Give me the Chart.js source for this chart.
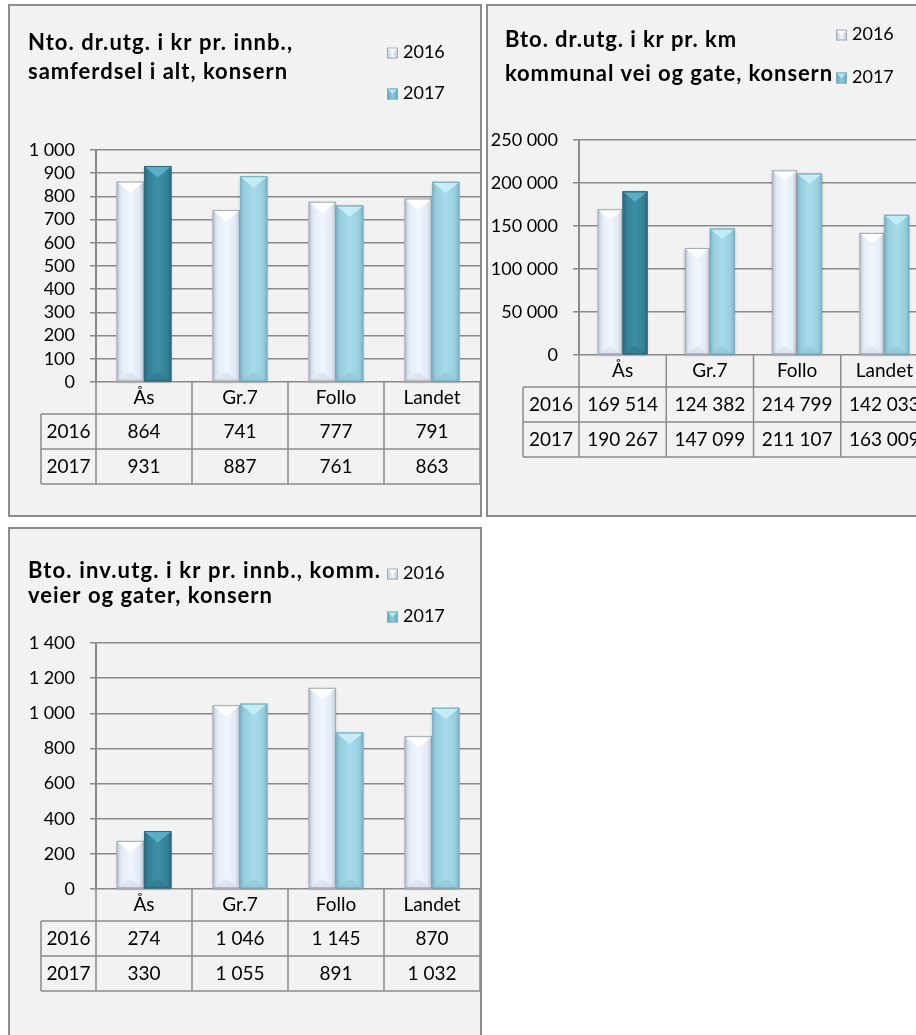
<!DOCTYPE html>
<html>
<head>
<meta charset="utf-8">
<script src="https://cdn.jsdelivr.net/npm/chart.js@4.4.1/dist/chart.umd.min.js"></script>
<style>
  html, body { margin: 0; padding: 0; background: #fff; overflow: hidden; width: 916px; height: 1035px; }
  canvas { position: absolute; }
  #c1 { left: 8px; top: 4px; }
  #c2 { left: 486px; top: 4px; }
  #c3 { left: 8px; top: 527px; }
</style>
</head>
<body>
<canvas id="c1" width="474" height="513"></canvas>
<canvas id="c2" width="470" height="513"></canvas>
<canvas id="c3" width="474" height="520"></canvas>
<script>
// data
const categories = ['Ås', 'Gr.7', 'Follo', 'Landet'];
const years = ['2016', '2017'];

const netto2016 = [864, 741, 777, 791];
const netto2017 = [931, 887, 761, 863];

const brutto2016 = [169514, 124382, 214799, 142033];
const brutto2017 = [190267, 147099, 211107, 163009];

const inv2016 = [274, 1046, 1145, 870];
const inv2017 = [330, 1055, 891, 1032];

const FONT = 'Lato, "Open Sans", sans-serif';
const GRID = '#8a8a8a';

// bar looks (3d bevel)
const light16 = { main: '#e3ebf6', light: '#f1f6fc', edge: '#bcc5d0', top: '#ffffff', bottom: '#d3dbe6', border: '#a3abb5' };
const dark17 = { main: '#358399', light: '#3d8fa6', edge: '#2a6a7c', top: '#5aaec5', bottom: '#2e7589', border: '#2b6b7d' };
const cyan17 = { main: '#98d0e0', light: '#a6dbea', edge: '#7db6c7', top: '#c3ecf7', bottom: '#8bc3d3', border: '#7aafbf' };

function fmt(v) {
  return String(v).replace(/\B(?=(\d{3})+(?!\d))/g, ' ');
}

function paintBar(ctx, bar, c) {
  const p = bar.getProps(['x', 'y', 'base', 'width'], true);
  const x0 = p.x - p.width / 2, x1 = p.x + p.width / 2;
  const top = Math.min(p.y, p.base), bot = Math.max(p.y, p.base);
  const h = bot - top;
  ctx.save();
  ctx.shadowColor = 'rgba(0,0,0,0.35)';
  ctx.shadowBlur = 3;
  ctx.shadowOffsetX = 0;
  ctx.shadowOffsetY = 1;
  const g = ctx.createLinearGradient(x0, 0, x1, 0);
  g.addColorStop(0, c.edge);
  g.addColorStop(0.18, c.main);
  g.addColorStop(0.5, c.light);
  g.addColorStop(0.82, c.main);
  g.addColorStop(1, c.edge);
  ctx.fillStyle = g;
  ctx.fillRect(x0, top, p.width, h);
  ctx.restore();

  const d = Math.min(p.width * 0.42, h / 2);
  ctx.save();
  ctx.beginPath();
  ctx.moveTo(x0 + 1, top + 1);
  ctx.lineTo(x1 - 1, top + 1);
  ctx.lineTo(p.x, top + d);
  ctx.closePath();
  ctx.fillStyle = c.top;
  ctx.fill();
  ctx.beginPath();
  ctx.moveTo(x0 + 1, bot);
  ctx.lineTo(x1 - 1, bot);
  ctx.lineTo(p.x, bot - d * 0.8);
  ctx.closePath();
  ctx.fillStyle = c.bottom;
  ctx.globalAlpha = 0.6;
  ctx.fill();
  ctx.restore();

  ctx.strokeStyle = c.border;
  ctx.lineWidth = 1;
  ctx.strokeRect(x0 + 0.5, top + 0.5, p.width - 1, h - 1);
}

function legendBox(ctx, x, y, c) {
  const s = 11;
  const g = ctx.createLinearGradient(x, 0, x + s, 0);
  g.addColorStop(0, c.edge);
  g.addColorStop(0.5, c.light);
  g.addColorStop(1, c.edge);
  ctx.fillStyle = g;
  ctx.fillRect(x, y - s / 2, s, s);
  ctx.beginPath();
  ctx.moveTo(x, y - s / 2);
  ctx.lineTo(x + s, y - s / 2);
  ctx.lineTo(x + s / 2, y);
  ctx.closePath();
  ctx.fillStyle = c.top;
  ctx.fill();
  ctx.strokeStyle = c.border;
  ctx.lineWidth = 1;
  ctx.strokeRect(x + 0.5, y - s / 2 + 0.5, s - 1, s - 1);
}

// draw a line of text stretched/squeezed to the width it has in the original
function fitText(ctx, text, x, y, w) {
  ctx.letterSpacing = '0px';
  const m = ctx.measureText(text).width;
  const ls = (w - m) / Math.max(1, text.length - 1);
  ctx.letterSpacing = ls.toFixed(2) + 'px';
  ctx.fillText(text, x, y);
  ctx.letterSpacing = '0px';
}

const panelPlugin = {
  id: 'panel',
  beforeDraw(chart, args, o) {
    const ctx = chart.ctx;
    ctx.save();
    ctx.fillStyle = '#f2f2f2';
    ctx.fillRect(0, 0, chart.width, chart.height);
    ctx.strokeStyle = '#8c8c8c';
    ctx.lineWidth = 2;
    ctx.strokeRect(1, 1, chart.width - 2, chart.height - 2);

    ctx.fillStyle = '#000';
    ctx.textBaseline = 'middle';
    ctx.textAlign = 'left';
    ctx.font = 'bold 22px ' + FONT;
    o.title.forEach((t, i) => fitText(ctx, t, o.titleX, o.titleY[i], o.titleW[i]));

    ctx.font = '18px ' + FONT;
    chart.data.datasets.forEach((ds, i) => {
      legendBox(ctx, o.legendX, o.legendY[i] + 1, i === 0 ? light16 : { ...cyan17, light: '#8fcbdc', edge: '#5ea7bb', top: '#b8e6f2' });
      ctx.fillStyle = '#000';
      ctx.fillText(ds.label, o.legendX + 16, o.legendY[i]);
    });
    ctx.restore();
  },
  afterDatasetsDraw(chart) {
    const ctx = chart.ctx;
    chart.data.datasets.forEach((ds, i) => {
      const meta = chart.getDatasetMeta(i);
      meta.data.forEach((bar, j) => {
        const c = i === 0 ? light16 : (j === 0 ? dark17 : cyan17);
        paintBar(ctx, bar, c);
      });
    });
  },
  afterDraw(chart, args, o) {
    const ctx = chart.ctx;
    const xs = chart.scales.x;
    const area = chart.chartArea;
    const n = chart.data.labels.length;
    const colW = (area.right - area.left) / n;
    const rowH = [32, 35, 35];
    const y0 = area.bottom;
    const y1 = y0 + rowH[0], y2 = y1 + rowH[1], y3 = y2 + rowH[2];
    const lx = area.left - o.rowLabelW;
    ctx.save();
    ctx.strokeStyle = GRID;
    ctx.lineWidth = 1.5;
    ctx.beginPath();
    [y1, y2, y3].forEach(y => { ctx.moveTo(lx, y); ctx.lineTo(area.right, y); });
    ctx.moveTo(lx, y1); ctx.lineTo(lx, y3);
    for (let k = 0; k <= n; k++) {
      const x = area.left + k * colW;
      ctx.moveTo(x, y0); ctx.lineTo(x, y3);
    }
    ctx.stroke();

    ctx.fillStyle = '#000';
    ctx.font = '19px ' + FONT;
    ctx.textAlign = 'center';
    ctx.textBaseline = 'middle';
    chart.data.labels.forEach((lab, j) => {
      const cx = xs.getPixelForValue(j);
      ctx.fillText(lab, cx, (y0 + y1) / 2);
      ctx.fillText(fmt(chart.data.datasets[0].data[j]), cx, (y1 + y2) / 2);
      ctx.fillText(fmt(chart.data.datasets[1].data[j]), cx, (y2 + y3) / 2);
    });
    ctx.fillText(chart.data.datasets[0].label, lx + o.rowLabelW / 2, (y1 + y2) / 2);
    ctx.fillText(chart.data.datasets[1].label, lx + o.rowLabelW / 2, (y2 + y3) / 2);
    ctx.restore();
  }
};

function makeChart(id, d16, d17, yMax, yStep, pad, axisW, panel) {
  return new Chart(id, {
    type: 'bar',
    data: {
      labels: categories,
      datasets: [
        { label: years[0], data: d16, backgroundColor: light16.main, borderWidth: 0 },
        { label: years[1], data: d17, backgroundColor: [dark17.main, cyan17.main, cyan17.main, cyan17.main], borderWidth: 0 },
      ],
    },
    options: {
      responsive: false,
      animation: false,
      layout: { padding: pad },
      datasets: { bar: { categoryPercentage: 0.57, barPercentage: 1.0 } },
      scales: {
        x: { display: false },
        y: {
          min: 0,
          max: yMax,
          afterFit: (s) => { s.width = axisW; },
          ticks: {
            stepSize: yStep,
            autoSkip: false,
            maxTicksLimit: 30,
            color: '#000',
            padding: 15,
            font: { family: FONT, size: 18, lineHeight: 1 },
            callback: (v) => fmt(v),
          },
          grid: { color: GRID, lineWidth: 1.5, tickLength: 6, drawTicks: true },
          border: { display: true, color: GRID, width: 2 },
        },
      },
      plugins: {
        legend: { display: false },
        tooltip: { enabled: false },
        panel: panel,
      },
    },
    plugins: [panelPlugin],
  });
}

makeChart('c1', netto2016, netto2017, 1000, 100,
  { left: 0, top: 146, right: 2, bottom: 135 }, 88,
  { title: ['Nto. dr.utg. i kr pr. innb.,', 'samferdsel i alt, konsern'], titleX: 20, titleY: [39, 68], titleW: [264, 259],
    legendX: 379, legendY: [48, 89], rowLabelW: 55 });

makeChart('c2', brutto2016, brutto2017, 250000, 50000,
  { left: 0, top: 136, right: 28, bottom: 162 }, 93,
  { title: ['Bto. dr.utg. i kr pr. km', 'kommunal vei og gate, konsern'], titleX: 19, titleY: [36, 70], titleW: [231, 327],
    legendX: 350, legendY: [30, 73], rowLabelW: 56 });

makeChart('c3', inv2016, inv2017, 1400, 200,
  { left: 0, top: 116, right: 2, bottom: 158 }, 88,
  { title: ['Bto. inv.utg. i kr pr. innb., komm.', 'veier og gater, konsern'], titleX: 20, titleY: [44, 69], titleW: [352, 244],
    legendX: 379, legendY: [46, 89], rowLabelW: 55 });
</script>
</body>
</html>
